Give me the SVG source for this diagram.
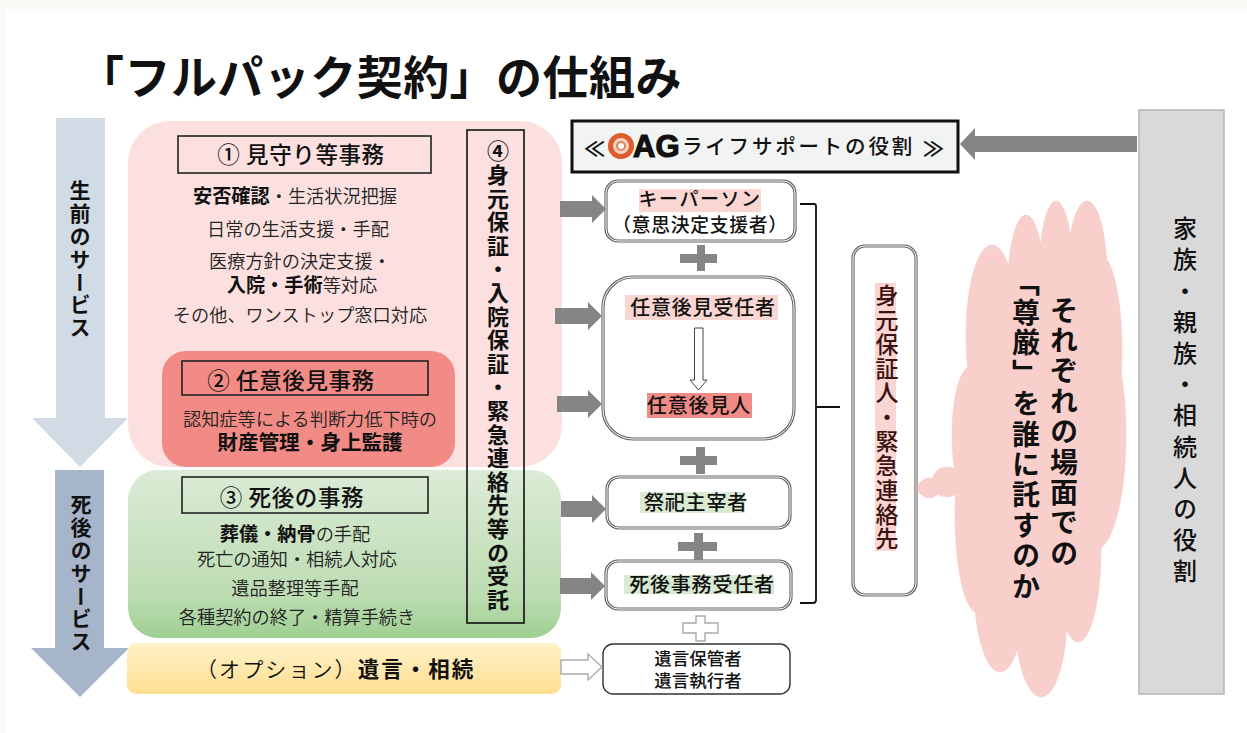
<svg xmlns="http://www.w3.org/2000/svg" width="1247" height="733" viewBox="0 0 1247 733">
<defs>
<linearGradient id="g" x1="0" y1="0" x2="0" y2="1"><stop offset="0" stop-color="#dcebd6"/><stop offset=".75" stop-color="#bcdcb2"/><stop offset="1" stop-color="#9fcf92"/></linearGradient>
<linearGradient id="y" x1="0" y1="0" x2="0" y2="1"><stop offset="0" stop-color="#fff1c8"/><stop offset="1" stop-color="#ffdf92"/></linearGradient>
</defs>
<style>
text{font-family:"Noto Sans CJK JP","Noto Sans",sans-serif;fill:#111}
.c{text-anchor:middle}
.b{font-weight:700}
.m{font-weight:500}
.s{font-size:18.2px;font-weight:350;fill:#222}
.sb{font-size:19.2px;font-weight:700;fill:#111}
.h{font-size:22.5px;font-weight:500;letter-spacing:.6px}
.n{font-size:20px;font-weight:500;letter-spacing:.8px}
.v{writing-mode:vertical-rl}
.box{fill:none;stroke:#222;stroke-width:1.6}
.o{stroke:#666;stroke-width:3.2;fill:#fff}
.i{stroke:#fff;stroke-width:1;fill:none}
.ar{fill:#858585}
.ol{fill:#fff;stroke:#aaa;stroke-width:1.4}
</style>
<rect width="1247" height="733" fill="#faf9f6"/>
<rect x="6" y="9" width="1241" height="724" fill="#fff"/>

<text id="title" x="78" y="94" font-size="46" letter-spacing=".45" style="font-weight:700">「フルパック契約」の仕組み</text>

<g id="life-arrow">
<polygon points="56,118 105,118 105,418 128,418 80,467 32,418 56,418" fill="#d1dbe5"/>
<text x="80" y="180" class="v b" font-size="21" letter-spacing="1.8">生前のサービス</text>
</g>
<g id="death-arrow">
<polygon points="55,470 104,470 104,648 129,648 80,697 31,648 55,648" fill="#a6b5c9"/>
<text x="81" y="494" class="v b" font-size="21" letter-spacing="1.8">死後のサービス</text>
</g>

<g id="pink-panel">
<rect x="128" y="121" width="434" height="346" rx="42" fill="#fbe0df"/>
<rect x="178" y="136" width="253" height="37" class="box"/>
<text x="301" y="163" class="c h">① 見守り等事務</text>
<text x="295" y="203" class="c s"><tspan class="sb">安否確認</tspan>・生活状況把握</text>
<text x="298" y="236" class="c s">日常の生活支援・手配</text>
<text x="300" y="268" class="c s">医療方針の決定支援・</text>
<text x="302" y="292" class="c s"><tspan class="sb">入院・手術</tspan>等対応</text>
<text x="300" y="322" class="c s">その他、ワンストップ窓口対応</text>
</g>
<g id="red-panel">
<rect x="162" y="351" width="293" height="116" rx="24" fill="#f28b85"/>
<rect x="182" y="361" width="246" height="34" class="box"/>
<text x="291" y="389" class="c h">② 任意後見事務</text>
<text x="310" y="426" class="c s">認知症等による判断力低下時の</text>
<text x="310" y="450" class="c b" font-size="20.6">財産管理・身上監護</text>
</g>
<g id="green-panel">
<rect x="128" y="470" width="433" height="168" rx="30" fill="url(#g)"/>
<rect x="182" y="477" width="246" height="36" class="box"/>
<text x="292" y="506" class="c h">③ 死後の事務</text>
<text x="295" y="541" class="c s"><tspan class="sb">葬儀・納骨</tspan>の手配</text>
<text x="297" y="566" class="c s">死亡の通知・相続人対応</text>
<text x="295" y="595" class="c s">遺品整理等手配</text>
<text x="297" y="624" class="c s">各種契約の終了・精算手続き</text>
</g>
<g id="option-panel">
<rect x="127" y="643" width="434" height="51" rx="9" fill="url(#y)"/>
<text x="196" y="677" font-size="21" font-weight="350" letter-spacing="2.100">（オプション）<tspan class="b" font-size="21.500" letter-spacing="2">遺言・相続</tspan></text>
</g>
<g id="box-4">
<rect x="467" y="130" width="57" height="493" fill="none" stroke="#111" stroke-width="1.6"/>
<text x="498" y="140" class="v" font-size="22" letter-spacing="1.6" style="font-weight:600">④身元保証・入院保証・緊急連絡先等の受託</text>
</g>

<g id="ag-box">
<rect x="572" y="121" width="386" height="51" fill="#f2f3f3" stroke="#111" stroke-width="3"/>
<text x="584" y="156" font-size="21" class="b">≪</text>
<circle cx="621" cy="146" r="10.500" fill="#f4d2c4" stroke="#e05a2c" stroke-width="5"/>
<circle cx="621" cy="146" r="4" fill="#fff" stroke="#e88050" stroke-width="2"/>
<text x="633" y="157" font-size="31" font-weight="700" style="font-family:'Liberation Sans',sans-serif;stroke:#111;stroke-width:1.200">AG</text>
<text x="682" y="154" font-size="20.5" class="m" letter-spacing="2.800">ライフサポートの役割</text>
<text x="923" y="156" font-size="21" class="b">≫</text>
</g>

<g id="keyperson">
<rect x="606" y="181" width="189" height="60" rx="12" class="o"/><rect x="606" y="181" width="189" height="60" rx="12" class="i"/>
<rect x="639" y="189" width="122" height="23" fill="#fad6d3"/>
<text x="700" y="206" class="c n" style="font-size:19px;letter-spacing:1.5px">キーパーソン</text>
<text x="700" y="232" class="c n" style="font-size:18.8px;letter-spacing:.7px">（意思決定支援者）</text>
</g>
<g id="nini">
<rect x="603" y="277" width="191" height="162" rx="30" class="o"/><rect x="603" y="277" width="191" height="162" rx="30" class="i"/>
<rect x="625" y="295" width="153" height="25" fill="#fad6d3"/>
<text x="703" y="315" class="c n">任意後見受任者</text>
<rect x="647" y="393" width="105" height="25" fill="#f28b85"/>
<text x="699" y="413" class="c n">任意後見人</text>
<polygon points="694.500,328 703,328 703,380 707,380 698.500,390 690,380 694.500,380" fill="#fff" stroke="#444" stroke-width="1"/>
</g>
<g id="saishi">
<rect x="607" y="477" width="183" height="51" rx="12" class="o"/><rect x="607" y="477" width="183" height="51" rx="12" class="i"/>
<rect x="640" y="492" width="105" height="21" fill="#d9ead3"/>
<text x="696" y="510" class="c n">祭祀主宰者</text>
</g>
<g id="shigo">
<rect x="606" y="561" width="185" height="48" rx="12" class="o"/><rect x="606" y="561" width="185" height="48" rx="12" class="i"/>
<rect x="624" y="575" width="150" height="19" fill="#d9ead3"/>
<text x="702" y="592" class="c n">死後事務受任者</text>
</g>
<g id="yuigon">
<rect x="603" y="644" width="187" height="50" rx="10" fill="#fff" stroke="#333" stroke-width="1.4"/>
<text x="698" y="665" class="c m" font-size="17.500">遺言保管者</text>
<text x="698" y="687" class="c m" font-size="17.500">遺言執行者</text>
</g>
<g id="guarantor">
<rect x="853" y="246" width="63" height="349" rx="12" class="o"/><rect x="853" y="246" width="63" height="349" rx="12" class="i"/>
<rect x="875" y="283" width="21" height="268" fill="#fad6d3"/>
<text x="887" y="284" class="v m" font-size="23" letter-spacing="1.300" style="fill:#3a1212">身元保証人・緊急連絡先</text>
</g>

<g id="cloud" fill="#f9cfcc" stroke="#f7c9c5" stroke-width=".6">
<ellipse cx="929" cy="488" rx="11" ry="10"/>
<ellipse cx="947" cy="482" rx="15" ry="15"/>
<ellipse cx="1087" cy="275" rx="20" ry="74"/>
<ellipse cx="1056" cy="275" rx="17" ry="74"/>
<ellipse cx="1026" cy="285" rx="18" ry="70"/>
<ellipse cx="992" cy="335" rx="26" ry="90"/>
<ellipse cx="1100" cy="350" rx="22" ry="95"/>
<ellipse cx="1095" cy="435" rx="31" ry="115"/>
<ellipse cx="970" cy="435" rx="18" ry="68"/>
<ellipse cx="978" cy="515" rx="23" ry="98"/>
<ellipse cx="1000" cy="585" rx="26" ry="87"/>
<ellipse cx="1041" cy="615" rx="26" ry="82"/>
<ellipse cx="1078" cy="550" rx="23" ry="92"/>
<ellipse cx="1040" cy="430" rx="70" ry="180" stroke="none"/>
<text x="1064" y="296" class="v b" font-size="28" letter-spacing="2.400" stroke="none">それぞれの場面での</text>
<text x="1026" y="268" class="v b" font-size="28" letter-spacing="2.400" stroke="none">「尊厳」を誰に託すのか</text>
</g>

<g id="family">
<rect x="1139" y="110" width="85" height="584" fill="#d9d9d9" stroke="#b5b5b5" stroke-width="1.500"/>
<text x="1185" y="216" class="v m" font-size="24" letter-spacing="7.200">家族・親族・相続人の役割</text>
</g>

<g id="connectors">
<polygon class="ar" points="1137,136 975,136 975,128 960,144 975,160 975,152 1137,152"/>
<polygon class="ar" points="560,201 592,201 592,195 606,209 592,223 592,217 560,217"/>
<polygon class="ar" points="555,308 588,308 588,302 602,316 588,330 588,324 555,324"/>
<polygon class="ar" points="557,396 588,396 588,390 602,404 588,418 588,412 557,412"/>
<polygon class="ar" points="561,501 592,501 592,495 606,509 592,523 592,517 561,517"/>
<polygon class="ar" points="560,578 591,578 591,572 605,586 591,600 591,594 560,594"/>
<polygon class="ol" points="561,660 588,660 588,654 602,667 588,680 588,674 561,674"/>
<path class="ar" d="M697 245h8v9h12v9h-12v8h-8v-8h-17v-9h17z"/>
<path class="ar" d="M696 447h9v9h12v9h-12v9h-9v-9h-16v-9h16z"/>
<path class="ar" d="M694 533h9v9h14v9h-14v9h-9v-9h-16v-9h16z"/>
<path class="ol" d="M696 616h9v7h13v10h-13v8h-9v-8h-13v-10h13z"/>
<path d="M800 204h14q2 0 2 2v197q0 4 -0 4h24h-24q0 0 0 4v189q0 3 -3 3h-13" fill="none" stroke="#111" stroke-width="1.800"/>
</g>
</svg>
